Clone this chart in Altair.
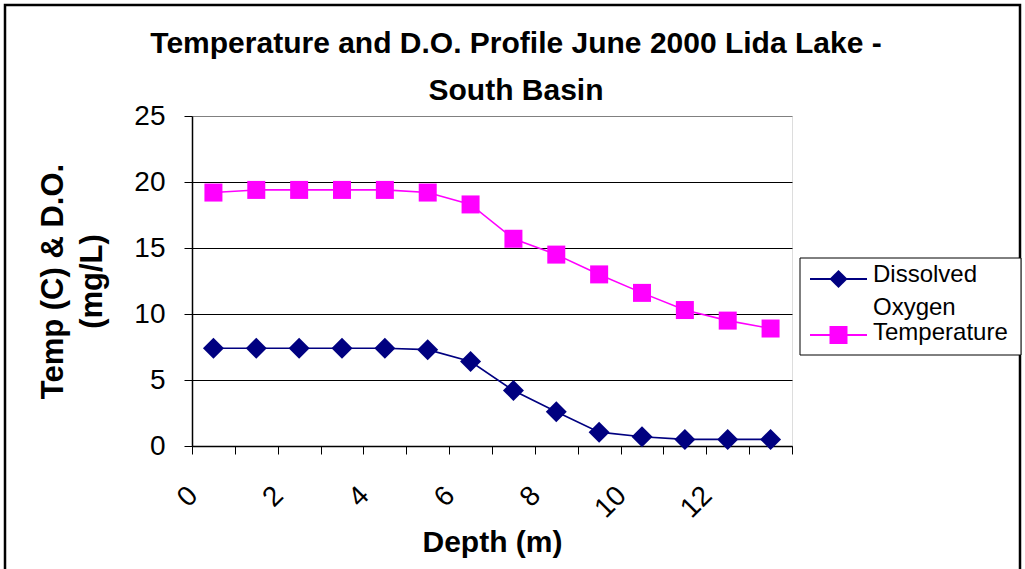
import altair as alt
import pandas as pd

# ---- data ----
depth = list(range(14))
dissolved_oxygen = [7.4, 7.4, 7.4, 7.4, 7.4, 7.3, 6.4, 4.2, 2.6, 1.05, 0.7, 0.5, 0.5, 0.5]
temperature = [19.2, 19.4, 19.4, 19.4, 19.4, 19.2, 18.3, 15.7, 14.5, 13.0, 11.6, 10.3, 9.5, 8.9]
series_names = ["Dissolved Oxygen", "Temperature"]
series_colors = ["#000080", "#FF00FF"]
series_shapes = ["diamond", "square"]
x_ticks = list(range(15))
y_ticks = [0, 5, 10, 15, 20, 25]
title_lines = ["Temperature and D.O. Profile June 2000 Lida Lake -", "South Basin"]
y_title = ["Temp (C) & D.O.", "(mg/L)"]
x_title = "Depth (m)"

rows = []
for d, do, t in zip(depth, dissolved_oxygen, temperature):
    rows.append({"depth": d, "series": series_names[0], "value": do})
    rows.append({"depth": d, "series": series_names[1], "value": t})
df = pd.DataFrame(rows)

FONT = "Liberation Sans"
W, H = 600, 330
L, T = 192, 116

x_enc = alt.X(
    "pos:Q",
    scale=alt.Scale(domain=[0, 14], nice=False, zero=False),
    axis=alt.Axis(
        values=x_ticks,
        labelExpr="datum.value % 2 == 0 && datum.value < 14 ? datum.label : ''",
        grid=False, tickSize=8, tickColor="black", tickWidth=1,
        domainColor="black", domainWidth=1.5,
        labelAngle=-45, labelAlign="right", labelBaseline="middle",
        labelFont=FONT, labelFontSize=28, labelColor="black",
        labelPadding=37, labelOffset=1,
        title=x_title, titleFont=FONT, titleFontSize=30, titleFontWeight="bold",
        titleColor="black", titleY=96, titleBaseline="middle",
    ),
)
y_axis = alt.Axis(
    values=y_ticks, grid=True,
    gridColor=alt.condition("datum.value == 25", alt.value("#808080"), alt.value("black")),
    gridWidth=1,
    tickSize=8, tickColor="black", domainColor="black", domainWidth=1.5,
    labelFont=FONT, labelFontSize=28, labelColor="black", labelPadding=19,
    title=y_title, titleFont=FONT, titleFontSize=31, titleFontWeight="bold",
    titleColor="black", titleX=-139, titleY=165, titleAngle=270,
    titleBaseline="middle", titleAlign="center", titleLineHeight=39,
)
y_enc = alt.Y("value:Q", scale=alt.Scale(domain=[0, 25], nice=False, zero=True), axis=y_axis)

base = alt.Chart(df).transform_calculate(pos="datum.depth + 0.5")

lines = base.mark_line(strokeWidth=1.6).encode(
    x=x_enc, y=y_enc,
    color=alt.Color("series:N", scale=alt.Scale(domain=series_names, range=series_colors), legend=None),
)

points_do = base.transform_filter(alt.datum.series == series_names[0]).mark_point(
    shape=series_shapes[0], filled=True, opacity=1, size=440, color=series_colors[0]
).encode(x=x_enc, y=y_enc)

points_t = base.transform_filter(alt.datum.series == series_names[1]).mark_point(
    shape=series_shapes[1], filled=True, opacity=1, size=324, color=series_colors[1]
).encode(x=x_enc, y=y_enc)

# ---- legend box (drawn as decoration to the right of the plot) ----
one = alt.Data(values=[{"a": 1}])
leg_box = alt.Chart(one).mark_rect(fill="white", stroke="black", strokeWidth=1).encode(
    x=alt.value(608), x2=alt.value(829), y=alt.value(142), y2=alt.value(239)
)
leg_items = []
for name, col, shp, sz, yy in zip(series_names, series_colors, series_shapes, [330, 324], [163, 219]):
    leg_items.append(alt.Chart(one).mark_rule(color=col, strokeWidth=2).encode(
        x=alt.value(618), x2=alt.value(675), y=alt.value(yy)))
    leg_items.append(alt.Chart(one).mark_point(shape=shp, filled=True, opacity=1, size=sz, color=col).encode(
        x=alt.value(646.5), y=alt.value(yy)))
leg_text = alt.Chart(one).mark_text(
    align="left", baseline="middle", font=FONT, fontSize=24, color="black",
    lineBreak="\n", lineHeight=33,
)
leg_labels = [
    leg_text.encode(x=alt.value(681), y=alt.value(159), text=alt.value(series_names[0].replace(" ", "\n"))),
    leg_text.encode(x=alt.value(681), y=alt.value(217), text=alt.value(series_names[1])),
]

frame = alt.Chart(one).mark_rect(fillOpacity=0, stroke="black", strokeWidth=2.5).encode(
    x=alt.value(5 - L), x2=alt.value(1020 - L), y=alt.value(5 - T), y2=alt.value(620)
)

chart = alt.layer(frame, lines, points_do, points_t, leg_box, *leg_items, *leg_labels).properties(
    width=W, height=H,
    title=alt.TitleParams(
        text=title_lines, font=FONT, fontSize=30, fontWeight="bold", color="black",
        anchor="middle", dx=24, offset=-126, baseline="alphabetic", lineHeight=47,
    ),
    autosize=alt.AutoSizeParams(type="none"),
    padding={"left": L, "top": T, "right": 1025 - L - W, "bottom": 569 - T - H},
).configure_view(
    fill="#C0C0C0", stroke="#808080", strokeWidth=1.5
).configure(background="white")

chart.save("out.html", embed_options={"renderer": "svg", "actions": False})
